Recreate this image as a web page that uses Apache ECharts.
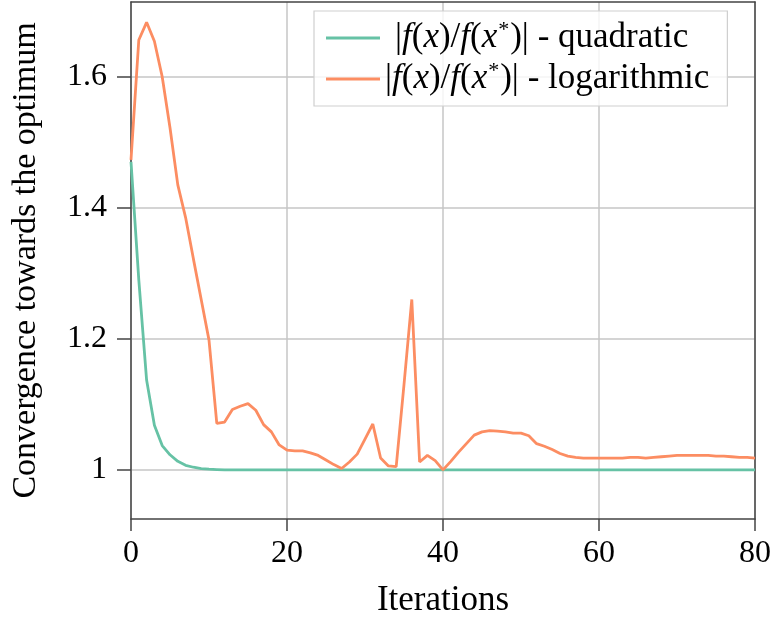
<!DOCTYPE html>
<html>
<head>
<meta charset="utf-8">
<script src="https://cdn.jsdelivr.net/npm/echarts@6/dist/echarts.min.js"></script>
<style>
  html, body { margin: 0; padding: 0; background: #fff; }
  #chart { width: 773px; height: 619px; }
</style>
</head>
<body>
<div id="chart"></div>
<script>
// Iteration index
const iterations = [
  0, 1, 2, 3, 4, 5, 6, 7, 8, 9,
  10, 11, 12, 13, 14, 15, 16, 17, 18, 19,
  20, 21, 22, 23, 24, 25, 26, 27, 28, 29,
  30, 31, 32, 33, 34, 35, 36, 37, 38, 39,
  40, 41, 42, 43, 44, 45, 46, 47, 48, 49,
  50, 51, 52, 53, 54, 55, 56, 57, 58, 59,
  60, 61, 62, 63, 64, 65, 66, 67, 68, 69,
  70, 71, 72, 73, 74, 75, 76, 77, 78, 79,
  80
];

// |f(x)/f(x*)| with the quadratic model
const quadratic = [
  1.470, 1.290, 1.137, 1.068, 1.037, 1.023, 1.013, 1.007, 1.004, 1.002,
  1.001, 1.0005, 1.0, 1.0, 1.0, 1.0, 1.0, 1.0, 1.0, 1.0,
  1.0, 1.0, 1.0, 1.0, 1.0, 1.0, 1.0, 1.0, 1.0, 1.0,
  1.0, 1.0, 1.0, 1.0, 1.0, 1.0, 1.0, 1.0, 1.0, 1.0,
  1.0, 1.0, 1.0, 1.0, 1.0, 1.0, 1.0, 1.0, 1.0, 1.0,
  1.0, 1.0, 1.0, 1.0, 1.0, 1.0, 1.0, 1.0, 1.0, 1.0,
  1.0, 1.0, 1.0, 1.0, 1.0, 1.0, 1.0, 1.0, 1.0, 1.0,
  1.0, 1.0, 1.0, 1.0, 1.0, 1.0, 1.0, 1.0, 1.0, 1.0,
  1.0
];

// |f(x)/f(x*)| with the logarithmic model
const logarithmic = [
  1.473, 1.656, 1.683, 1.654, 1.600, 1.522, 1.435, 1.385, 1.322, 1.260,
  1.198, 1.071, 1.073, 1.092, 1.097, 1.101, 1.091, 1.069, 1.058, 1.038,
  1.030, 1.029, 1.029, 1.026, 1.022, 1.015, 1.008, 1.002, 1.012, 1.024,
  1.047, 1.070, 1.018, 1.006, 1.005, 1.130, 1.260, 1.012, 1.022, 1.014,
  1.000, 1.013, 1.027, 1.040, 1.053, 1.058, 1.060, 1.059, 1.058, 1.056,
  1.056, 1.052, 1.040, 1.036, 1.031, 1.025, 1.021, 1.019, 1.018, 1.018,
  1.018, 1.018, 1.018, 1.018, 1.019, 1.019, 1.018, 1.019, 1.020, 1.021,
  1.022, 1.022, 1.022, 1.022, 1.022, 1.021, 1.021, 1.020, 1.019, 1.019,
  1.018
];

const xTicks = [0, 20, 40, 60, 80];
const yTicks = [1, 1.2, 1.4, 1.6];

const seriesNames = ['quadratic', 'logarithmic'];
const colors = ['#66c2a5', '#fc8d62'];

const FONT = '"Liberation Serif", "DejaVu Serif", serif';
const AXIS_COLOR = '#444';
const TICK_COLOR = '#444';
const GRID_COLOR = '#c6c6c6';
const X_RANGE = [0, 80];
const Y_RANGE = [0.925, 1.714];

const chart = echarts.init(document.getElementById('chart'), null, { renderer: 'canvas' });

const pair = (xs, ys) => xs.map((x, i) => [x, ys[i]]);

// Plain frame edge (top / right) without ticks or labels
const frameEdge = {
  axisLine: { show: true, onZero: false, lineStyle: { color: AXIS_COLOR, width: 1.5 } },
  axisTick: { show: false },
  axisLabel: { show: false },
  splitLine: { show: false }
};

// Bare axes that only carry the outward tick marks
const tickOnlyX = {
  type: 'value', position: 'bottom',
  min: X_RANGE[0], max: X_RANGE[1], interval: 20,
  axisLine: { show: false },
  axisTick: { show: true, length: 12, lineStyle: { color: TICK_COLOR, width: 1.5 } },
  axisLabel: { show: false },
  splitLine: { show: false }
};
const tickOnlyY = {
  type: 'value', position: 'left',
  min: Y_RANGE[0], max: Y_RANGE[1], splitNumber: 4,
  axisLine: { show: false },
  axisTick: { show: true, length: 14, lineStyle: { color: TICK_COLOR, width: 1.5 }, customValues: yTicks },
  axisLabel: { show: false },
  splitLine: { show: false }
};

chart.setOption({
  animation: false,
  backgroundColor: '#fff',
  textStyle: { fontFamily: FONT },
  grid: {
    left: 131, right: 18, top: 2, bottom: 100,
    outerBoundsMode: 'none'
  },
  legend: {
    orient: 'vertical',
    left: 314, top: 11,
    data: seriesNames,
    icon: 'rect',
    itemWidth: 54, itemHeight: 3,
    itemGap: 3,
    padding: [8, 18, 8, 12],
    backgroundColor: 'rgba(255,255,255,0.82)',
    borderColor: '#cfcfcf', borderWidth: 1.2,
    formatter: name =>
      (name === 'quadratic' ? '{p| }' : '') +
      '{n||}{i|f}{n|(}{i|x}{n|)/}{i|f}{n|(}{i|x}{s|*}{n|)| - ' + name + '}',
    textStyle: {
      fontFamily: FONT, fontSize: 35, color: '#000', lineHeight: 38,
      rich: {
        p: { fontFamily: FONT, fontSize: 35, width: 10 },
        n: { fontFamily: FONT, fontSize: 35, color: '#000' },
        i: { fontFamily: FONT, fontSize: 35, fontStyle: 'italic', color: '#000' },
        s: { fontFamily: FONT, fontSize: 22, color: '#000', verticalAlign: 'top', padding: [0, 1, 14, 1] }
      }
    }
  },
  xAxis: [
    {
      type: 'value',
      position: 'bottom',
      min: X_RANGE[0], max: X_RANGE[1], interval: 20,
      name: 'Iterations',
      nameLocation: 'middle',
      nameGap: 64,
      nameTextStyle: { fontFamily: FONT, fontSize: 35, color: '#000' },
      axisLine: { show: true, onZero: false, lineStyle: { color: AXIS_COLOR, width: 1.5 } },
      axisTick: { show: true, length: 12, lineStyle: { color: TICK_COLOR, width: 1.5 } },
      axisLabel: { margin: 19, fontFamily: FONT, fontSize: 32, color: '#000' },
      splitLine: { show: true, lineStyle: { color: GRID_COLOR, width: 1.5 } }
    },
    Object.assign({ type: 'value', position: 'top', min: X_RANGE[0], max: X_RANGE[1], interval: 20 }, frameEdge),
    tickOnlyX
  ],
  yAxis: [
    {
      type: 'value',
      position: 'left',
      min: Y_RANGE[0], max: Y_RANGE[1],
      splitNumber: 4,
      name: 'Convergence towards the optimum',
      nameLocation: 'middle',
      nameGap: 88,
      nameTextStyle: { fontFamily: FONT, fontSize: 34, color: '#000' },
      axisLine: { show: true, onZero: false, lineStyle: { color: AXIS_COLOR, width: 1.5 } },
      axisTick: { show: true, length: 14, lineStyle: { color: TICK_COLOR, width: 1.5 }, customValues: yTicks },
      axisLabel: {
        margin: 24, fontFamily: FONT, fontSize: 32, color: '#000',
        customValues: yTicks,
        formatter: v => String(Math.round(v * 10) / 10)
      },
      splitLine: { show: true, lineStyle: { color: GRID_COLOR, width: 1.5 } }
    },
    Object.assign({ type: 'value', position: 'right', min: Y_RANGE[0], max: Y_RANGE[1], splitNumber: 4 }, frameEdge),
    tickOnlyY
  ],
  series: [
    {
      name: seriesNames[0], type: 'line',
      xAxisIndex: 0, yAxisIndex: 0,
      data: pair(iterations, quadratic),
      showSymbol: false, symbol: 'none',
      lineStyle: { color: colors[0], width: 2.8 },
      itemStyle: { color: colors[0] },
      z: 3
    },
    {
      name: seriesNames[1], type: 'line',
      xAxisIndex: 0, yAxisIndex: 0,
      data: pair(iterations, logarithmic),
      showSymbol: false, symbol: 'none',
      lineStyle: { color: colors[1], width: 2.8 },
      itemStyle: { color: colors[1] },
      z: 4
    }
  ]
});
</script>
</body>
</html>
